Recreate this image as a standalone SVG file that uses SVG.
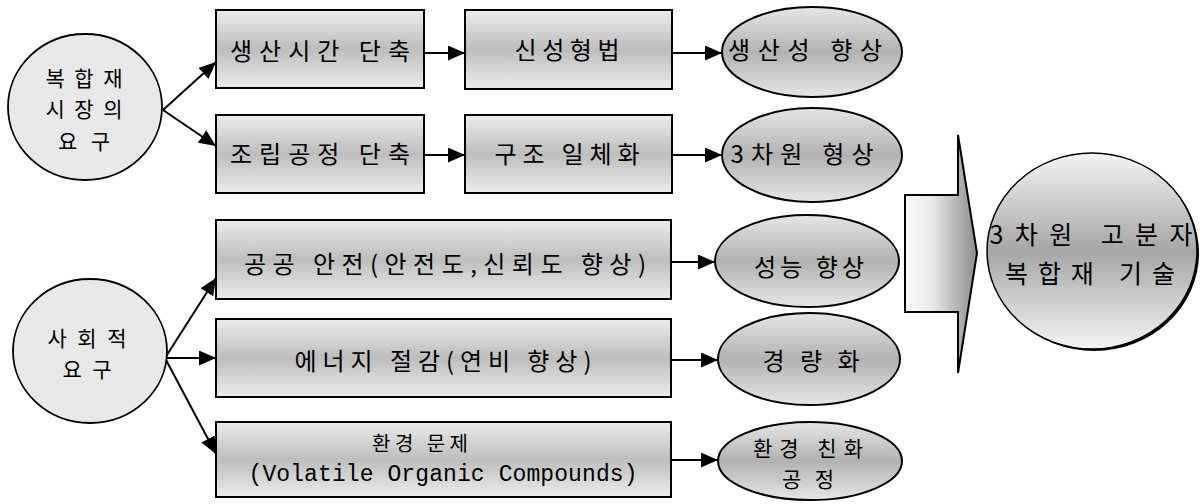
<svg xmlns="http://www.w3.org/2000/svg" width="1200" height="504" viewBox="0 0 1200 504">
<style>
.box{stroke:#000;stroke-width:2;fill:url(#gBox)}
.oval{stroke:#000;stroke-width:2;fill:url(#gOval)}
.src{stroke:#000;stroke-width:1.8;fill:#e8e8e8}
.t{font-family:"Noto Sans CJK KR","Liberation Sans",sans-serif;font-size:24px;fill:#000;text-anchor:middle}
.s{font-size:21px}
.m{font-family:"Liberation Mono","DejaVu Sans Mono",monospace;font-size:23px;fill:#000;text-anchor:middle}
.c{stroke:#000;stroke-width:2;fill:none;marker-end:url(#ah)}
</style>
<defs>
<marker id="ah" viewBox="0 0 10 10" refX="10" refY="5" markerUnits="userSpaceOnUse" markerWidth="17" markerHeight="15" orient="auto" preserveAspectRatio="none">
<path d="M0,0 L10,5 L0,10 Z" fill="#000"/>
</marker>
<linearGradient id="gBox" x1="0" y1="0" x2="0" y2="1">
<stop offset="0" stop-color="#ececec"/>
<stop offset="0.5" stop-color="#bdbdbd"/>
<stop offset="1" stop-color="#ececec"/>
</linearGradient>
<linearGradient id="gOval" x1="0" y1="0" x2="0" y2="1">
<stop offset="0" stop-color="#e6e6e6"/>
<stop offset="0.5" stop-color="#b2b2b2"/>
<stop offset="1" stop-color="#e6e6e6"/>
</linearGradient>
<linearGradient id="gArrow" x1="0" y1="0" x2="1" y2="0">
<stop offset="0" stop-color="#f8f8f8"/>
<stop offset="0.35" stop-color="#ececec"/>
<stop offset="1" stop-color="#8c8c8c"/>
</linearGradient>
<linearGradient id="gBig" x1="0" y1="0" x2="0" y2="1">
<stop offset="0" stop-color="#f4f4f4"/>
<stop offset="0.5" stop-color="#a6a6a6"/>
<stop offset="1" stop-color="#f4f4f4"/>
</linearGradient>
</defs>

<g id="connectors">
<line class="c" x1="163" y1="110" x2="216" y2="62"/>
<line class="c" x1="163" y1="110" x2="216" y2="146"/>
<line class="c" x1="424" y1="53" x2="465" y2="53"/>
<line class="c" x1="424" y1="155" x2="465" y2="155"/>
<line class="c" x1="672" y1="53" x2="722" y2="53"/>
<line class="c" x1="672" y1="155" x2="722" y2="155"/>
<line class="c" x1="165" y1="358" x2="216" y2="278"/>
<line class="c" x1="165" y1="358" x2="216" y2="358"/>
<line class="c" x1="165" y1="358" x2="216" y2="454"/>
<line class="c" x1="671" y1="262" x2="715" y2="262"/>
<line class="c" x1="671" y1="360" x2="718" y2="360"/>
<line class="c" x1="671" y1="460" x2="718" y2="460"/>
</g>

<g id="n-market">
<ellipse class="src" cx="85" cy="107" rx="77" ry="73"/>
<text class="t s" x="84" y="86" textLength="77" lengthAdjust="spacing">복합재</text>
<text class="t s" x="84" y="117" textLength="77" lengthAdjust="spacing">시장의</text>
<text class="t s" x="84" y="149" textLength="52" lengthAdjust="spacing">요구</text>
</g>

<g id="n-social">
<ellipse class="src" cx="90" cy="351" rx="77" ry="72"/>
<text class="t s" x="87" y="346" textLength="79" lengthAdjust="spacing">사회적</text>
<text class="t s" x="87" y="377" textLength="49" lengthAdjust="spacing">요구</text>
</g>

<g id="n-time">
<rect class="box" x="216" y="10" width="208" height="78"/>
<text class="t" x="320" y="60" textLength="180" lengthAdjust="spacing">생산시간 단축</text>
</g>
<g id="n-molding">
<rect class="box" x="465" y="10" width="207" height="79"/>
<text class="t" x="567" y="59" textLength="105" lengthAdjust="spacing">신성형법</text>
</g>
<g id="n-productivity">
<ellipse class="oval" cx="812" cy="52" rx="90" ry="45"/>
<text class="t" x="805" y="59" textLength="154" lengthAdjust="spacing">생산성 향상</text>
</g>

<g id="n-assembly">
<rect class="box" x="216" y="115" width="208" height="78"/>
<text class="t" x="320" y="163" textLength="180" lengthAdjust="spacing">조립공정 단축</text>
</g>
<g id="n-integration">
<rect class="box" x="465" y="115" width="207" height="78"/>
<text class="t" x="567" y="163" textLength="145" lengthAdjust="spacing">구조 일체화</text>
</g>
<g id="n-3d">
<ellipse class="oval" cx="812" cy="155" rx="90" ry="47"/>
<text class="t" x="802" y="163" textLength="143" lengthAdjust="spacing">3차원 형상</text>
</g>

<g id="n-safety">
<rect class="box" x="216" y="220" width="455" height="79"/>
<text class="t" x="445" y="273" textLength="402" lengthAdjust="spacing">공공 안전(안전도,신뢰도 향상)</text>
</g>
<g id="n-performance">
<ellipse class="oval" cx="807" cy="261" rx="92" ry="46"/>
<text class="t" x="809" y="276" textLength="110" lengthAdjust="spacing">성능 향상</text>
</g>

<g id="n-energy">
<rect class="box" x="216" y="319" width="455" height="78"/>
<text class="t" x="443" y="370" textLength="297" lengthAdjust="spacing">에너지 절감(연비 향상)</text>
</g>
<g id="n-light">
<ellipse class="oval" cx="809" cy="359" rx="91" ry="46"/>
<text class="t" x="811" y="370" textLength="97" lengthAdjust="spacing">경량화</text>
</g>

<g id="n-env">
<rect class="box" x="216" y="422" width="455" height="75"/>
<text class="t" x="420" y="451" style="font-size:20px" textLength="96" lengthAdjust="spacing">환경 문제</text>
<text class="m" x="443" y="481" textLength="389" lengthAdjust="spacing">(Volatile Organic Compounds)</text>
</g>
<g id="n-eco">
<ellipse class="oval" cx="810" cy="461" rx="92" ry="39"/>
<text class="t s" x="808" y="456" textLength="110" lengthAdjust="spacing">환경 친화</text>
<text class="t s" x="808" y="487" textLength="52" lengthAdjust="spacing">공정</text>
</g>

<g id="n-bigarrow">
<path d="M905,195 L958,195 L958,135 L977,253 L958,373 L958,312 L905,312 Z" fill="url(#gArrow)" stroke="#000" stroke-width="2" stroke-linejoin="miter"/>
</g>

<g id="n-tech">
<ellipse cx="1094" cy="253" rx="105" ry="98" fill="#000"/>
<ellipse cx="1092" cy="251" rx="105" ry="98" fill="url(#gBig)" stroke="#000" stroke-width="1.5"/>
<text class="t" x="1091" y="244" style="font-size:25px" textLength="203" lengthAdjust="spacing">3차원 고분자</text>
<text class="t" x="1090" y="283" style="font-size:25px" textLength="170" lengthAdjust="spacing">복합재 기술</text>
</g>
</svg>
